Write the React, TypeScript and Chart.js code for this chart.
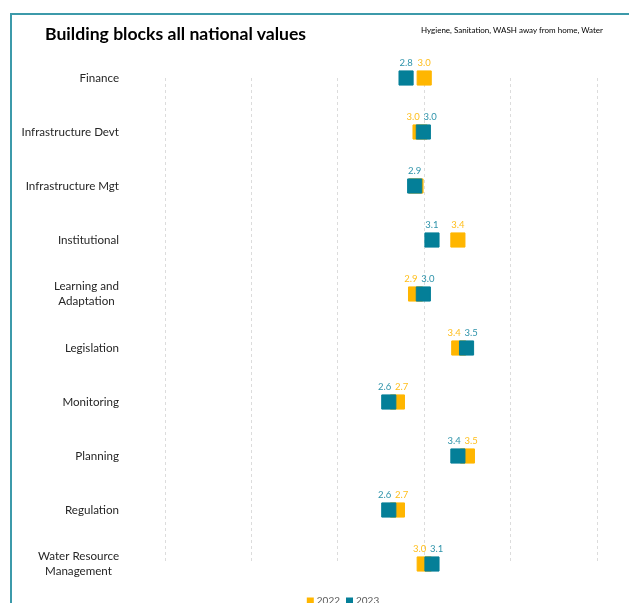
import React, { useEffect, useRef } from 'react';
import { Chart, registerables } from 'chart.js';

Chart.register(...registerables);

const categories: (string | string[])[] = [
  'Finance',
  'Infrastructure Devt',
  'Infrastructure Mgt',
  'Institutional',
  ['Learning and', 'Adaptation'],
  'Legislation',
  'Monitoring',
  'Planning',
  'Regulation',
  ['Water Resource', 'Management'],
];
const values2022 = [3.0, 2.952, 2.905, 3.39, 2.9, 3.4, 2.69, 3.5, 2.69, 3.0];
const values2023 = [2.79, 2.99, 2.89, 3.09, 2.99, 3.49, 2.59, 3.39, 2.59, 3.09];
const seriesNames = ['2022', '2023'];
const xTicks = [0, 1, 2, 3, 4, 5];

const ORANGE = '#FFB600';
const TEAL = '#047F98';
const ORANGE_LABEL = '#FFBE1A';
const TEAL_LABEL = '#2E93AA';
const FONT = 'Lato, "Noto Sans", sans-serif';

const labelPlugin = {
  id: 'pointLabels',
  afterDatasetsDraw(chart: any) {
    const ctx = chart.ctx;
    const metas = chart.data.datasets.map((_: any, i: number) => chart.getDatasetMeta(i));
    ctx.save();
    ctx.font = `9.5px ${FONT}`;
    ctx.textAlign = 'center';
    ctx.textBaseline = 'middle';
    const gap = 17;
    for (let i = 0; i < chart.data.labels.length; i++) {
      const items = metas.map((m: any, di: number) => ({
        di,
        x: m.data[i].x,
        y: m.data[i].y,
        v: chart.data.datasets[di].data[i],
        color: chart.data.datasets[di].labelColor,
      }));
      const a = items[0];
      const b = items[1];
      const dx = Math.abs(a.x - b.x);
      let shown = items;
      if (dx < 2.5) {
        shown = [a];
      } else if (dx < gap) {
        const mid = (a.x + b.x) / 2;
        const left = a.x < b.x ? a : b;
        const right = left === a ? b : a;
        left.x = mid - gap / 2;
        right.x = mid + gap / 2;
      }
      shown.forEach((it: any) => {
        ctx.fillStyle = it.color;
        ctx.fillText(Number(it.v).toFixed(1), it.x, it.y - 15);
      });
    }
    ctx.restore();
  },
};

const categoryLabelPlugin = {
  id: 'categoryLabels',
  afterDraw(chart: any) {
    const ctx = chart.ctx;
    const yScale = chart.scales.y;
    const opts = chart.options.plugins.categoryLabels;
    ctx.save();
    ctx.font = `${opts.size}px ${FONT}`;
    ctx.fillStyle = opts.color;
    ctx.textAlign = 'center';
    ctx.textBaseline = 'middle';
    chart.data.labels.forEach((lab: any, i: number) => {
      const lines: string[] = Array.isArray(lab) ? lab : [lab];
      const widest = Math.max(...lines.map((l) => ctx.measureText(l).width));
      const cx = opts.right - widest / 2;
      const cy = yScale.getPixelForTick(i);
      const lh = opts.lineHeight;
      lines.forEach((l, k) => {
        ctx.fillText(l, cx, cy + (k - (lines.length - 1) / 2) * lh);
      });
    });
    ctx.restore();
  },
};

const legendPlugin = {
  id: 'bottomLegend',
  afterDraw(chart: any) {
    const ctx = chart.ctx;
    const ds = [...chart.data.datasets].sort((p: any, q: any) => String(p.label).localeCompare(String(q.label)));
    ctx.save();
    ctx.font = `10px ${FONT}`;
    ctx.textBaseline = 'middle';
    ctx.textAlign = 'left';
    const box = 7;
    const spacing = 6;
    const widths = ds.map((d: any) => box + 3 + ctx.measureText(d.label).width);
    const total = widths.reduce((s: number, w: number) => s + w, 0) + spacing * (ds.length - 1);
    const center = chart.options.plugins.bottomLegend.center;
    let x = center - total / 2;
    const y = chart.chartArea.bottom + 37;
    ds.forEach((d: any, k: number) => {
      ctx.fillStyle = d.backgroundColor;
      ctx.fillRect(x, y - box / 2, box, box);
      ctx.fillStyle = '#595959';
      ctx.fillText(d.label, x + box + 3, y);
      x += widths[k] + spacing;
    });
    ctx.restore();
  },
};

export default function App() {
  const canvasRef = useRef<HTMLCanvasElement | null>(null);

  useEffect(() => {
    if (!canvasRef.current) return;
    const chart = new Chart(canvasRef.current, {
      type: 'line',
      data: {
        labels: categories as any,
        datasets: [
          {
            label: seriesNames[1],
            data: values2023,
            backgroundColor: TEAL,
            borderColor: TEAL,
            pointBackgroundColor: TEAL,
            pointBorderColor: TEAL,
            labelColor: TEAL_LABEL,
          } as any,
          {
            label: seriesNames[0],
            data: values2022,
            backgroundColor: ORANGE,
            borderColor: ORANGE,
            pointBackgroundColor: ORANGE,
            pointBorderColor: ORANGE,
            labelColor: ORANGE_LABEL,
          } as any,
        ],
      },
      options: {
        animation: false,
        responsive: false,
        indexAxis: 'y',
        clip: false as any,
        showLine: false,
        elements: {
          point: { pointStyle: 'rect', radius: 10, borderWidth: 1, hoverRadius: 10 },
        },
        layout: { padding: { left: 0, top: 78, right: 32, bottom: 39 } },
        scales: {
          x: {
            type: 'linear',
            min: 0,
            max: 5,
            afterBuildTicks: (scale: any) => {
              scale.ticks = xTicks.map((v) => ({ value: v }));
            },
            afterFit: (scale: any) => {
              scale.height = 0;
            },
            ticks: { display: false },
            grid: { color: '#DCDCDC', lineWidth: 1, drawTicks: false },
            border: { display: false, dash: [3, 3] },
          },
          y: {
            type: 'category',
            offset: false,
            afterFit: (scale: any) => {
              scale.width = 165;
            },
            grid: { display: false, drawTicks: false },
            border: { display: false },
            ticks: { display: false },
          },
        },
        plugins: {
          legend: { display: false },
          tooltip: { enabled: false },
          bottomLegend: { center: 343 },
          categoryLabels: { right: 119, size: 11.6, lineHeight: 15, color: '#262626' },
        } as any,
      },
      plugins: [labelPlugin, categoryLabelPlugin, legendPlugin],
    });
    return () => chart.destroy();
  }, []);

  return (
    <div
      style={{
        position: 'fixed',
        left: 0,
        top: 0,
        width: 629,
        height: 603,
        overflow: 'hidden',
        background: '#fff',
      }}
    >
      <div
        style={{
          position: 'absolute',
          left: 10,
          top: 13,
          width: 700,
          height: 700,
          border: '2px solid #3C9AAA',
          boxSizing: 'border-box',
        }}
      />
      <canvas
        ref={canvasRef}
        width={629}
        height={603}
        style={{ position: 'absolute', left: 0, top: 0, width: 629, height: 603 }}
      />
      <div
        style={{
          position: 'absolute',
          left: 45,
          top: 23,
          fontFamily: FONT,
          fontWeight: 700,
          fontSize: 17.6,
          lineHeight: '22px',
          color: '#000',
          whiteSpace: 'nowrap',
        }}
      >
        Building blocks all national values
      </div>
      <div
        style={{
          position: 'absolute',
          right: 26,
          top: 25,
          fontFamily: FONT,
          fontSize: 8,
          lineHeight: '10px',
          color: '#000',
          whiteSpace: 'nowrap',
        }}
      >
        Hygiene, Sanitation, WASH away from home, Water
      </div>
    </div>
  );
}
